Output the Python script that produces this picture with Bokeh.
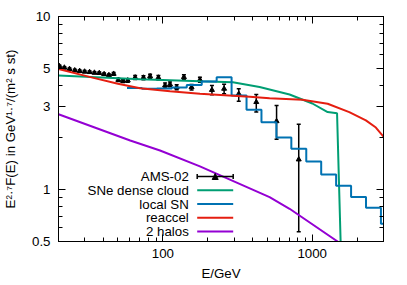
from bokeh.plotting import figure
from bokeh.models import (FixedTicker, LogAxis, Whisker, TeeHead, NormalHead, Arrow,
                          Label, ColumnDataSource, CustomJSTickFormatter)
from bokeh.embed import file_html
from bokeh.resources import INLINE

# ---------------- data ----------------
ams_E = [20.3, 21.9, 23.7, 25.7, 27.7, 29.9, 32.3, 34.8, 37.5, 40.4, 43.5, 46.8,
         50.3, 54.1, 58.2, 65.2, 74.1, 82.1, 93.3, 103.4, 111.6, 123.7, 138.3,
         155.6, 177.0, 213.0, 257.0, 322.0, 422.0, 577.0, 812.0]
ams_F = [5.16, 5.06, 4.97, 4.88, 4.84, 4.80, 4.77, 4.73, 4.71, 4.64, 4.58, 4.66,
         4.30, 4.24, 4.27, 4.44, 4.43, 4.51, 4.43, 3.99, 4.05, 3.90, 4.46,
         3.90, 4.31, 3.76, 3.82, 3.57, 3.20, 2.48, 1.49]
ams_err_lo = [0.07, 0.07, 0.07, 0.07, 0.07, 0.07, 0.07, 0.07, 0.07, 0.07, 0.07, 0.08,
              0.09, 0.09, 0.10, 0.12, 0.12, 0.13, 0.13, 0.13, 0.13, 0.13, 0.14,
              0.14, 0.15, 0.23, 0.24, 0.33, 0.40, 0.53, 0.92]
ams_err_hi = [0.07, 0.07, 0.07, 0.07, 0.07, 0.07, 0.07, 0.07, 0.07, 0.07, 0.07, 0.08,
              0.09, 0.09, 0.10, 0.12, 0.12, 0.13, 0.13, 0.13, 0.13, 0.13, 0.14,
              0.14, 0.15, 0.23, 0.24, 0.25, 0.34, 0.58, 0.89]

sne_E = [20, 70.4, 177, 294, 444, 705, 1002, 1268, 1466, 1580]
sne_F = [4.56, 4.33, 4.22, 4.17, 3.91, 3.54, 3.14, 2.80, 2.76, 0.27]

local_E = [57.5, 72.4, 91.2, 114.8, 144.5, 182.0, 229.1, 288.4, 363.1, 457.1,
           575.4, 724.4, 912.0, 1148, 1445, 1820, 2291, 2884, 3631]
local_F = [3.86, 3.82, 3.83, 3.89, 4.02, 4.21, 4.46, 3.49, 2.89, 2.45,
           2.00, 1.72, 1.45, 1.22, 1.05, 0.903, 0.784, 0.634, 0.634]

reac_E = [20, 32.7, 50, 70.4, 111.6, 177, 381, 518, 859, 1268, 1770, 2286, 2667, 3000]
reac_F = [4.97, 4.46, 4.08, 3.85, 3.70, 3.57, 3.43, 3.37, 3.30, 3.13, 2.80, 2.51, 2.28, 2.02]

halo_E = [20, 60.4, 95.7, 177, 518, 705, 1479, 1700]
halo_F = [2.72, 1.92, 1.68, 1.36, 0.903, 0.773, 0.50, 0.45]

x_major = [100, 1000]
x_minor = [20, 30, 40, 50, 60, 70, 80, 90, 200, 300, 400, 500, 600, 700, 800, 900, 2000, 3000]
y_major = [0.5, 1, 3, 5, 10]
y_minor = [0.6, 0.7, 0.8, 0.9, 2, 4, 6, 7, 8, 9]

x_title = "E/GeV"
y_title = "E\u00b2\u00b7\u2077F(E) in GeV\u00b9\u00b7\u2077/(m\u00b2 s st)"
legend_labels = ["AMS-02", "SNe dense cloud", "local SN", "reaccel", "2 halos"]
C_GREEN, C_BLUE, C_RED, C_PURPLE = "#009e73", "#0072b2", "#e51e10", "#9400d3"

# ---------------- layout ----------------
FONT = "Liberation Sans"
FS = 13.3
W, H = 407, 285
FL, FT, FW, FH = 58, 16, 325, 225   # frame position inside the canvas


def sx(page_x):
    return page_x - FL


def sy(page_y):
    return (FT + FH) - page_y


p = figure(width=W, height=H, x_axis_type="log", y_axis_type="log",
           x_range=(20, 3000), y_range=(0.5, 10),
           output_backend="svg", toolbar_location=None,
           min_border_left=FL, min_border_right=W - FL - FW,
           min_border_top=FT, min_border_bottom=H - FT - FH)
p.xgrid.visible = False
p.ygrid.visible = False
p.outline_line_color = "black"
p.outline_line_width = 1
p.background_fill_color = "white"
p.border_fill_color = "white"

fmt = CustomJSTickFormatter(code="return String(tick);")


def style_axis(ax, labels, standoff):
    ax.axis_line_color = "black"
    ax.axis_line_width = 1
    ax.major_tick_in = 7
    ax.major_tick_out = 0
    ax.minor_tick_in = 4
    ax.minor_tick_out = 0
    ax.major_tick_line_color = "black"
    ax.minor_tick_line_color = "black"
    ax.major_label_text_font = FONT
    ax.major_label_text_font_size = f"{FS}px"
    ax.axis_label_text_font = FONT
    ax.axis_label_text_font_size = f"{FS}px"
    ax.axis_label_text_font_style = "normal"
    ax.axis_label_text_color = "black"
    if labels:
        ax.major_label_text_color = "black"
        ax.major_label_standoff = standoff
    else:
        ax.major_label_text_color = None
        ax.major_label_standoff = 0


bx = p.xaxis[0]
bx.ticker = FixedTicker(ticks=x_major, minor_ticks=x_minor)
bx.formatter = fmt
style_axis(bx, True, 7)
bx.axis_label = x_title
bx.axis_label_standoff = 5

ly = p.yaxis[0]
ly.ticker = FixedTicker(ticks=y_major, minor_ticks=y_minor)
ly.formatter = fmt
style_axis(ly, True, 8)
ly.axis_label = y_title
ly.axis_label_standoff = 11

top = LogAxis(ticker=FixedTicker(ticks=x_major, minor_ticks=x_minor), formatter=fmt)
style_axis(top, False, 0)
p.add_layout(top, "above")
right = LogAxis(ticker=FixedTicker(ticks=y_major, minor_ticks=y_minor), formatter=fmt)
style_axis(right, False, 0)
p.add_layout(right, "right")

# ---------------- data drawing ----------------
src = ColumnDataSource(dict(
    x=ams_E, y=ams_F,
    lower=[f - e for f, e in zip(ams_F, ams_err_lo)],
    upper=[f + e for f, e in zip(ams_F, ams_err_hi)],
))
wh = Whisker(source=src, base="x", lower="lower", upper="upper", dimension="height",
             line_color="black", line_width=1.5,
             upper_head=TeeHead(size=4, line_color="black", line_width=1.5),
             lower_head=TeeHead(size=4, line_color="black", line_width=1.5))
p.add_layout(wh)
p.scatter("x", "y", source=src, marker="triangle", size=5, color="black")

p.line(sne_E, sne_F, line_color=C_GREEN, line_width=2)
p.step(local_E, local_F, mode="after", line_color=C_BLUE, line_width=2)
p.line(reac_E, reac_F, line_color=C_RED, line_width=2)
p.line(halo_E, halo_F, line_color=C_PURPLE, line_width=2)

# ---------------- legend (gnuplot style: text left, sample right) ----------------
row_y = [176, 189.75, 203.5, 217.25, 231]
text_right = 188.3
s0, s1 = 196.7, 232.7
colors = [None, C_GREEN, C_BLUE, C_RED, C_PURPLE]
for lab, yy, c in zip(legend_labels, row_y, colors):
    p.add_layout(Label(x=sx(text_right), y=sy(yy), x_units="screen", y_units="screen",
                       text=lab, text_font=FONT, text_font_size=f"{FS}px",
                       text_align="right", text_baseline="middle", text_color="black"))
    if c is None:
        p.add_layout(Arrow(x_start=sx(s0), y_start=sy(yy), x_end=sx(s1), y_end=sy(yy),
                           start_units="screen", end_units="screen",
                           start=TeeHead(size=5, line_color="black", line_width=1.5),
                           end=TeeHead(size=5, line_color="black", line_width=1.5),
                           line_color="black", line_width=1.5))
        xm = (s0 + s1) / 2
        p.add_layout(Arrow(x_start=sx(xm), y_start=sy(yy) - 2.5, x_end=sx(xm), y_end=sy(yy) + 3,
                           start_units="screen", end_units="screen", start=None,
                           end=NormalHead(size=6, line_color="black", fill_color="black", line_width=1),
                           line_color="black", line_width=1))
    else:
        p.add_layout(Arrow(x_start=sx(s0), y_start=sy(yy), x_end=sx(s1), y_end=sy(yy),
                           start_units="screen", end_units="screen", start=None, end=None,
                           line_color=c, line_width=2))

open("out.html", "w").write(file_html(p, INLINE))
